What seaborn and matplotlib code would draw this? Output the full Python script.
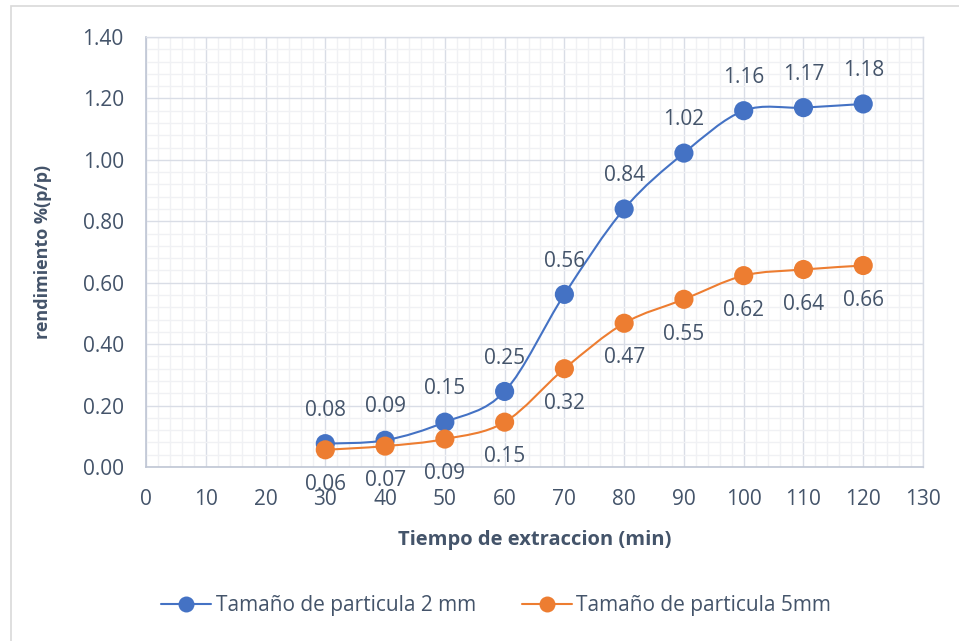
import matplotlib
matplotlib.use("Agg")
import matplotlib.pyplot as plt
import seaborn as sns
import numpy as np
import pandas as pd
from matplotlib.path import Path
from matplotlib.patches import PathPatch, Rectangle
from matplotlib.lines import Line2D
from matplotlib.ticker import MultipleLocator, FormatStrFormatter

# ---- data ----
tiempo = [30, 40, 50, 60, 70, 80, 90, 100, 110, 120]
rend_2mm = [0.076, 0.087, 0.146, 0.246, 0.562, 0.840, 1.022, 1.160, 1.170, 1.182]
rend_5mm = [0.056, 0.068, 0.091, 0.146, 0.320, 0.468, 0.546, 0.623, 0.643, 0.656]
serie_2mm = "Tamaño de particula 2 mm"
serie_5mm = "Tamaño de particula 5mm"
x_label = "Tiempo de extraccion (min)"
y_label = "rendimiento %(p/p)"

BLUE = "#4472C4"
ORANGE = "#ED7D31"
TXT = "#44546A"
FONT = "Open Sans"

sns.set_theme(style="white")
plt.rcParams["font.family"] = [FONT, "DejaVu Sans"]

df = pd.DataFrame({
    "tiempo": tiempo * 2,
    "rend": rend_2mm + rend_5mm,
    "serie": [serie_2mm] * len(tiempo) + [serie_5mm] * len(tiempo),
})

fig = plt.figure(figsize=(9.59, 6.41), dpi=100)
fig.patches.append(Rectangle((11 / 959, -0.01), 1.0, (641 - 6) / 641 + 0.01,
                             transform=fig.transFigure, fill=False,
                             edgecolor="#D9D9D9", linewidth=1.2, zorder=0))
ax = fig.add_axes([146 / 959, (641 - 467) / 641, (923 - 146) / 959, (467 - 37) / 641])

ax.set_xlim(0, 130)
ax.set_ylim(0, 1.40)
ax.xaxis.set_major_locator(MultipleLocator(10))
ax.xaxis.set_minor_locator(MultipleLocator(2))
ax.yaxis.set_major_locator(MultipleLocator(0.2))
ax.yaxis.set_minor_locator(MultipleLocator(0.04))
ax.grid(which="minor", color="#F0F1F4", linewidth=1.0, zorder=0)
ax.grid(which="major", color="#D9DDE6", linewidth=1.0, zorder=0)
ax.set_axisbelow(True)
for s in ["top", "right"]:
    ax.spines[s].set_color("#D9DDE6")
    ax.spines[s].set_linewidth(1.0)
for s in ["left", "bottom"]:
    ax.spines[s].set_color("#BFC6D4")
    ax.spines[s].set_linewidth(1.2)
ax.tick_params(which="both", length=0, labelsize=15, colors=TXT)
ax.tick_params(axis="y", pad=16)
ax.tick_params(axis="x", pad=16)
ax.yaxis.set_major_formatter(FormatStrFormatter("%.2f"))


def smooth_path(xs, ys):
    pts = np.column_stack([xs, ys]).astype(float)
    n = len(pts)
    verts = [pts[0]]
    codes = [Path.MOVETO]
    for i in range(n - 1):
        p0 = pts[i - 1] if i > 0 else pts[i]
        p1 = pts[i]
        p2 = pts[i + 1]
        p3 = pts[i + 2] if i + 2 < n else pts[i + 1]
        c1 = p1 + (p2 - p0) / 6.0
        c2 = p2 - (p3 - p1) / 6.0
        verts += [c1, c2, p2]
        codes += [Path.CURVE4] * 3
    return Path(verts, codes)


for ys, col in [(rend_2mm, BLUE), (rend_5mm, ORANGE)]:
    ax.add_patch(PathPatch(smooth_path(tiempo, ys), facecolor="none",
                           edgecolor=col, linewidth=1.5, zorder=3))

sns.scatterplot(data=df, x="tiempo", y="rend", hue="serie",
                palette={serie_2mm: BLUE, serie_5mm: ORANGE},
                s=190, edgecolor="none", legend=False, ax=ax, zorder=4)

for xv, yv in zip(tiempo, rend_2mm):
    ax.annotate(f"{yv:.2f}", (xv, yv), xytext=(0, 24), textcoords="offset points",
                ha="center", va="center", fontsize=15, color=TXT)
for xv, yv in zip(tiempo, rend_5mm):
    ax.annotate(f"{yv:.2f}", (xv, yv), xytext=(0, -25), textcoords="offset points",
                ha="center", va="center", fontsize=15, color=TXT)

ax.set_xlabel(x_label, fontsize=14.5, fontweight="bold", color=TXT, labelpad=14)
ax.set_ylabel(y_label, fontsize=13, fontweight="bold", color=TXT, labelpad=22)

handles = [Line2D([0], [0], color=BLUE, lw=1.5, marker="o", markersize=11.5, markeredgewidth=0),
           Line2D([0], [0], color=ORANGE, lw=1.5, marker="o", markersize=11.5, markeredgewidth=0)]
leg = fig.legend(handles, [serie_2mm, serie_5mm], loc="center",
                 bbox_to_anchor=(496 / 959, 1 - 606 / 641), ncol=2, frameon=False,
                 fontsize=15, handlelength=2.4, handletextpad=0.2, columnspacing=2.2)
for t in leg.get_texts():
    t.set_color(TXT)

fig.savefig("out.png", dpi=100)
